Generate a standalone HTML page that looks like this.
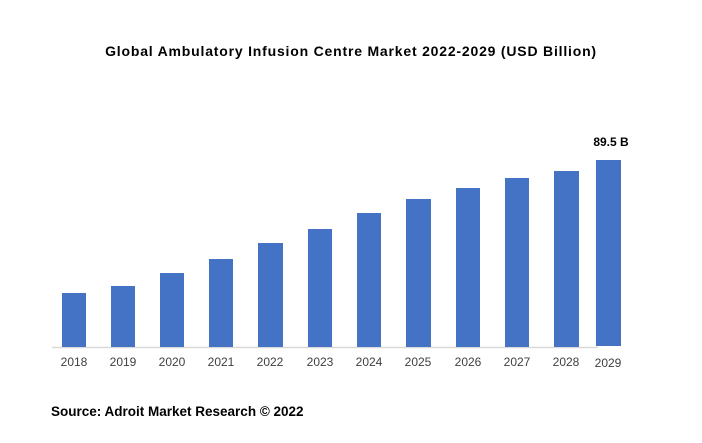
<!DOCTYPE html>
<html><head><style>
body{margin:0;width:702px;height:443px;background:#fff;overflow:hidden}
svg{display:block}
</style></head><body>
<svg width="702" height="443" xmlns="http://www.w3.org/2000/svg">
<text x="351" y="56" text-anchor="middle" font-family="Liberation Sans, sans-serif" font-weight="bold" font-size="14" letter-spacing="0.8" fill="#000">Global Ambulatory Infusion Centre Market 2022-2029 (USD Billion)</text>
<line x1="52" y1="347.5" x2="598" y2="347.5" stroke="#d9d9d9" stroke-width="1.5"/>
<g fill="#4472c4">
<rect x="62" y="293" width="24" height="54"/>
<rect x="111" y="286" width="24" height="61"/>
<rect x="160" y="273" width="24" height="74"/>
<rect x="209" y="259" width="24" height="88"/>
<rect x="258" y="243" width="25" height="104"/>
<rect x="308" y="229" width="24" height="118"/>
<rect x="357" y="213" width="24" height="134"/>
<rect x="406" y="199" width="25" height="148"/>
<rect x="456" y="188" width="24" height="159"/>
<rect x="505" y="178" width="24" height="169"/>
<rect x="554" y="171" width="25" height="176"/>
<rect x="596" y="160" width="25" height="186"/>
</g>
<g font-family="Liberation Sans, sans-serif" font-size="12" fill="#404040" text-anchor="middle">
<text x="74" y="366">2018</text><text x="123" y="366">2019</text><text x="172" y="366">2020</text>
<text x="221" y="366">2021</text><text x="270" y="366">2022</text><text x="320" y="366">2023</text>
<text x="369" y="366">2024</text><text x="418" y="366">2025</text><text x="468" y="366">2026</text>
<text x="517" y="366">2027</text><text x="566" y="366">2028</text><text x="608" y="367">2029</text>
</g>
<text x="611" y="146" text-anchor="middle" font-family="Liberation Sans Narrow, Liberation Sans, sans-serif" font-weight="bold" font-size="12" fill="#000">89.5 B</text>
<text x="51" y="416" font-family="Liberation Sans, sans-serif" font-weight="bold" font-size="13.5" fill="#000">Source: Adroit Market Research © 2022</text>
</svg>
</body></html>
